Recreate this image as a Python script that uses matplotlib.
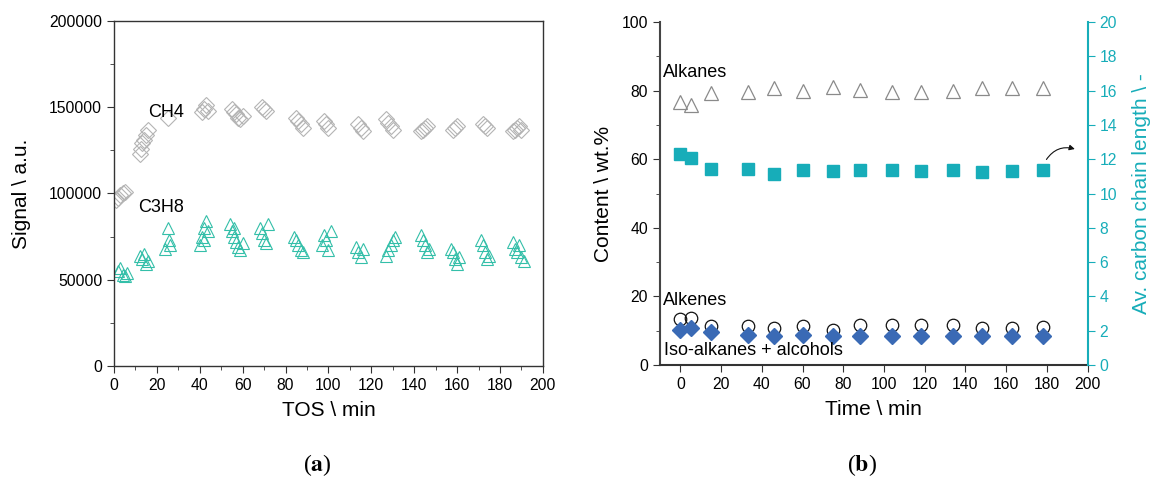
import matplotlib
matplotlib.use("Agg")
import matplotlib.pyplot as plt
from matplotlib.ticker import MultipleLocator

plt.rcParams['font.family'] = ['Liberation Sans', 'DejaVu Sans']
plt.rcParams['mathtext.fontset'] = 'stix'

# (a) raw GC signal, repeated injections per sampling point
ch4_tos = [1, 2, 3, 4, 5,
           12, 12.5, 13, 14, 15, 16,
           25,
           41, 42, 43, 44,
           55, 56, 57, 58, 59, 60,
           69, 70, 71,
           85, 86, 87, 88,
           98, 99, 100,
           114, 115, 116,
           127, 128, 129, 130,
           143, 144, 145, 146,
           158, 159, 160,
           172, 173, 174,
           186, 187, 188, 189, 190]
ch4_signal = [96000, 97500, 99000, 100500, 101000,
              123000, 126000, 129000, 131000, 134000, 137000,
              144000,
              147000, 149000, 151000, 148000,
              149000, 147000, 146000, 144000, 143000, 145000,
              150000, 149000, 148000,
              144000, 142000, 140000, 138000,
              142000, 140000, 138000,
              140000, 138000, 136000,
              143000, 141000, 139000, 137000,
              136000, 137000, 138000, 139000,
              137000, 138000, 139000,
              140000, 139000, 138000,
              136000, 137000, 138000, 139000, 137000]

c3h8_tos = [2, 3, 4, 5, 6,
            12, 13, 14, 15, 16,
            24, 25, 25.5, 26,
            40, 41, 42, 42, 43, 44,
            54, 55, 56, 56, 57, 58, 59, 60,
            68, 69, 70, 71, 72,
            84, 85, 86, 87, 88,
            97, 98, 99, 100, 101,
            113, 114, 115, 116,
            127, 128, 129, 130, 131,
            143, 144, 145, 146, 147,
            157, 158, 159, 160, 161,
            171, 172, 173, 174, 175,
            186, 187, 188, 189, 190, 191]
c3h8_signal = [55000, 57000, 53000, 52000, 54000,
               64000, 62000, 65000, 59000, 61000,
               68000, 80000, 73000, 70000,
               70000, 75000, 80000, 73000, 84000, 78000,
               82000, 78000, 75000, 80000, 72000, 69000, 67000, 71000,
               80000, 77000, 73000, 71000, 82000,
               75000, 73000, 70000, 67000, 66000,
               70000, 76000, 73000, 67000, 78000,
               69000, 66000, 63000, 68000,
               64000, 67000, 70000, 73000, 75000,
               76000, 73000, 70000, 66000, 68000,
               68000, 66000, 62000, 59000, 63000,
               73000, 70000, 66000, 62000, 64000,
               72000, 68000, 66000, 70000, 63000, 61000]

# (b) product composition and chain length
time_min = [0, 5, 15, 33, 46, 60, 75, 88, 104, 118, 134, 148, 163, 178]
alkanes = [76.6, 75.9, 79.2, 79.5, 80.8, 79.8, 81.2, 80.2, 79.7, 79.5, 79.8, 80.8, 80.8, 80.8]
alkenes = [13.3, 13.8, 11.4, 11.4, 10.7, 11.3, 10.2, 11.6, 11.8, 11.8, 11.6, 10.7, 10.7, 11.0]
iso_alcohols = [10.2, 10.7, 9.5, 8.7, 8.6, 8.7, 8.6, 8.4, 8.6, 8.6, 8.4, 8.4, 8.4, 8.4]
chain_length = [12.3, 12.1, 11.43, 11.41, 11.14, 11.37, 11.31, 11.35, 11.37, 11.33, 11.37, 11.27, 11.33, 11.35]

spine_col = '#333333'
teal = '#17adb9'
tick_fs = 11.3
label_fs = 15
note_fs = 13

fig = plt.figure(figsize=(11.51, 4.79), dpi=100)

# ---- panel (a)
ax1 = fig.add_axes([0.099, 0.236, 0.3727, 0.7203])
ax1.plot(ch4_tos, ch4_signal, linestyle='none', marker='D', markersize=8.5,
         markerfacecolor='none', markeredgecolor='#b4b4b4', markeredgewidth=0.8)
ax1.plot(c3h8_tos, c3h8_signal, linestyle='none', marker='^', markersize=9,
         markerfacecolor='none', markeredgecolor='#34bfa9', markeredgewidth=0.8)
ax1.set_xlim(0, 200)
ax1.set_ylim(0, 200000)
ax1.xaxis.set_major_locator(MultipleLocator(20))
ax1.xaxis.set_minor_locator(MultipleLocator(10))
ax1.yaxis.set_major_locator(MultipleLocator(50000))
ax1.yaxis.set_minor_locator(MultipleLocator(25000))
ax1.tick_params(which='both', direction='out', labelsize=tick_fs, color=spine_col)
ax1.tick_params(which='major', length=5)
ax1.tick_params(which='minor', length=3)
for s in ax1.spines.values():
    s.set_color(spine_col)
    s.set_linewidth(1.0)
ax1.set_xlabel('TOS \\ min', fontsize=label_fs, labelpad=6)
ax1.set_ylabel('Signal \\ a.u.', fontsize=label_fs, labelpad=13)
ax1.text(15.8, 146700, 'CH4', fontsize=note_fs, va='center')
ax1.text(11.2, 91600, 'C3H8', fontsize=note_fs, va='center')

# ---- panel (b)
ax2 = fig.add_axes([0.5734, 0.238, 0.3716, 0.716])
ax2.plot(time_min, alkanes, linestyle='none', marker='^', markersize=10,
         markerfacecolor='none', markeredgecolor='#8a8a8a', markeredgewidth=0.9)
ax2.plot(time_min, alkenes, linestyle='none', marker='o', markersize=9,
         markerfacecolor='none', markeredgecolor='#111111', markeredgewidth=0.9)
ax2.plot(time_min, iso_alcohols, linestyle='none', marker='D', markersize=8.5,
         markerfacecolor='#3a6ab5', markeredgecolor='#3a6ab5')
ax2.set_xlim(-10, 200)
ax2.set_ylim(0, 100)
ax2.xaxis.set_major_locator(MultipleLocator(20))
ax2.yaxis.set_major_locator(MultipleLocator(20))
ax2.yaxis.set_minor_locator(MultipleLocator(10))
ax2.tick_params(which='both', direction='out', labelsize=tick_fs, color=spine_col)
ax2.tick_params(which='major', length=5)
ax2.tick_params(which='minor', length=3)
ax2.spines['top'].set_visible(False)
ax2.spines['right'].set_visible(False)
ax2.spines['left'].set_color('#444444')
ax2.spines['left'].set_linewidth(1.5)
ax2.spines['bottom'].set_color(spine_col)
ax2.spines['bottom'].set_linewidth(1.5)
ax2.set_xlabel('Time \\ min', fontsize=label_fs, labelpad=6)
ax2.set_ylabel('Content \\ wt.%', fontsize=label_fs, labelpad=6)
ax2.text(-8.5, 85.2, 'Alkanes', fontsize=note_fs, va='center')
ax2.text(-8.5, 18.9, 'Alkenes', fontsize=note_fs, va='center')
ax2.text(-8, 4.2, 'Iso-alkanes + alcohols', fontsize=note_fs, va='center')

ax3 = ax2.twinx()
ax3.plot(time_min, chain_length, linestyle='none', marker='s', markersize=8,
         markerfacecolor=teal, markeredgecolor=teal)
ax3.set_ylim(0, 20)
ax3.yaxis.set_major_locator(MultipleLocator(2))
ax3.spines['top'].set_visible(False)
ax3.spines['left'].set_visible(False)
ax3.spines['bottom'].set_visible(False)
ax3.spines['right'].set_color(teal)
ax3.spines['right'].set_linewidth(1.5)
ax3.tick_params(axis='y', direction='out', length=5, labelsize=tick_fs, colors=teal)
ax3.set_ylabel('Av. carbon chain length \\ -', fontsize=label_fs, color=teal, labelpad=11)
ax3.annotate('', xy=(195, 12.55), xytext=(179, 11.85),
             arrowprops=dict(arrowstyle='-|>', color='#111111', lw=0.8,
                             connectionstyle='arc3,rad=-0.4', mutation_scale=8))

# panel letters
fig.text(0.276, 0.03, '(' + r'$\mathbf{a}$' + ')', fontsize=17, ha='center', va='center',
         family='Liberation Serif')
fig.text(0.749, 0.03, '(' + r'$\mathbf{b}$' + ')', fontsize=17, ha='center', va='center',
         family='Liberation Serif')

fig.savefig('out.png', dpi=100)
